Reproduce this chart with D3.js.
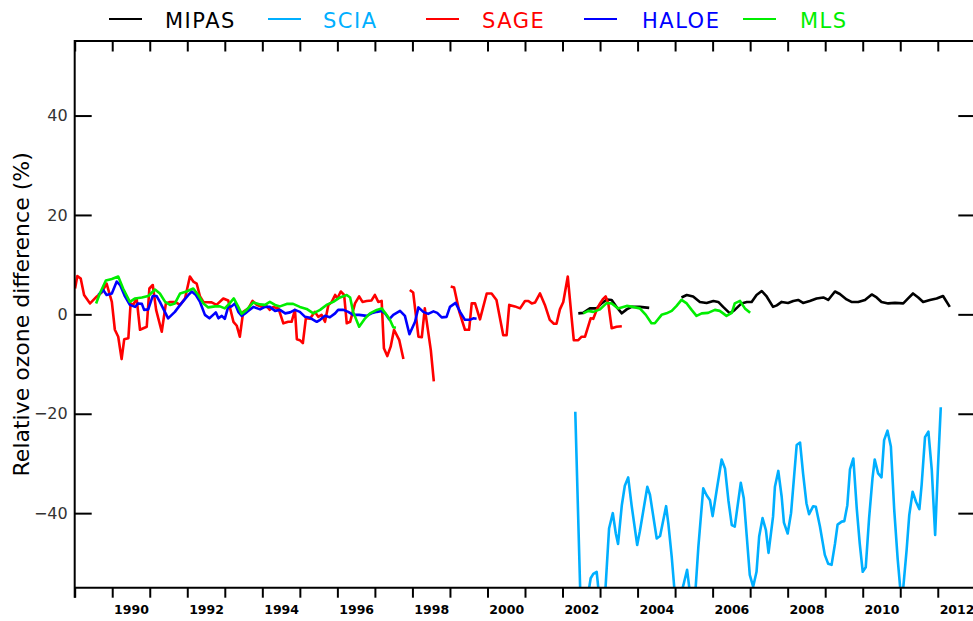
<!DOCTYPE html>
<html>
<head>
<meta charset="utf-8">
<script src="https://cdn.jsdelivr.net/npm/d3@7"></script>
<style>
  html, body { margin: 0; padding: 0; background: #fff; }
  svg { display: block; }
  .axis path, .axis line { stroke: #000; stroke-width: 2; }
</style>
</head>
<body>
<svg id="chart" width="973" height="621"></svg>
<script>
// ---------------- DATA ----------------
const seriesNames = ["MIPAS", "SCIA", "SAGE", "HALOE", "MLS"];
const seriesColors = ["#000000", "#00afff", "#ff0000", "#0000ff", "#00ee00"];
const xTickYears = d3.range(1989, 2014);
const xLabelYears = [1990, 1992, 1994, 1996, 1998, 2000, 2002, 2004, 2006, 2008, 2010, 2012];
const yTickValues = [-40, -20, 0, 20, 40];

// [decimal year, relative difference %]; null marks a gap
const mipas = [
  [2002.42,0.2],[2002.55,0.3],[2002.73,1.2],[2002.91,1.2],[2003.04,2.2],[2003.18,3.0],[2003.31,2.9],
  [2003.44,1.5],[2003.58,0.2],[2003.71,1.0],[2003.84,1.5],[2004.06,1.5],[2004.31,1.3],
  null,
  [2005.17,3.4],[2005.31,3.9],[2005.48,3.6],[2005.66,2.5],[2005.84,2.3],[2006.02,2.7],[2006.15,2.5],
  [2006.28,1.5],[2006.46,0.2],[2006.59,0.9],[2006.77,2.2],[2006.91,2.5],[2007.04,2.5],[2007.17,3.9],
  [2007.31,4.7],[2007.44,3.6],[2007.61,1.5],[2007.71,1.8],[2007.84,2.5],[2008.01,2.3],[2008.15,2.7],
  [2008.28,2.9],[2008.41,2.3],[2008.59,2.7],[2008.77,3.2],[2008.95,3.4],[2009.08,2.9],[2009.26,4.6],
  [2009.39,4.1],[2009.57,3.0],[2009.70,2.5],[2009.88,2.5],[2010.06,2.9],[2010.24,4.0],[2010.37,3.4],
  [2010.50,2.5],[2010.68,2.2],[2010.86,2.3],[2011.08,2.2],[2011.21,3.2],[2011.34,4.2],[2011.48,3.4],
  [2011.61,2.5],[2011.79,2.9],[2011.97,3.2],[2012.14,3.7],[2012.32,1.5]
];

const scia = [
  [2002.34,-19.6],[2002.48,-58],[2002.69,-56],[2002.75,-53.1],[2002.82,-52.2],[2002.91,-51.8],
  [2002.98,-57],[2003.13,-57],[2003.24,-43.1],[2003.34,-40.0],[2003.42,-44.1],[2003.48,-46.2],
  [2003.58,-38.4],[2003.66,-34.5],[2003.75,-32.8],[2003.84,-38.4],[2003.99,-46.4],[2004.06,-43.7],
  [2004.26,-34.7],[2004.33,-36.3],[2004.51,-45.1],[2004.60,-44.6],[2004.76,-38.6],[2004.82,-42.1],
  [2004.91,-48.8],[2005.00,-57],[2005.13,-57],[2005.22,-54.5],[2005.32,-51.4],[2005.41,-57],
  [2005.53,-57],[2005.62,-46.8],[2005.75,-35.0],[2005.84,-36.4],[2005.93,-37.4],[2006.00,-40.6],
  [2006.11,-35.3],[2006.24,-29.2],[2006.33,-31.0],[2006.42,-37.4],[2006.51,-42.4],[2006.59,-42.7],
  [2006.75,-33.9],[2006.83,-37.0],[2006.91,-44.7],[2006.99,-52.4],[2007.08,-54.8],[2007.17,-51.8],
  [2007.24,-44.7],[2007.33,-41.0],[2007.42,-43.4],[2007.49,-48.0],[2007.61,-40.7],[2007.66,-34.7],
  [2007.75,-31.5],[2007.84,-36.7],[2007.90,-41.9],[2008.00,-44.1],[2008.09,-40.0],[2008.17,-32.7],
  [2008.24,-26.3],[2008.33,-25.8],[2008.41,-32.0],[2008.50,-38.0],[2008.57,-40.2],[2008.68,-38.6],
  [2008.75,-38.7],[2008.86,-42.7],[2008.99,-48.4],[2009.08,-50.2],[2009.17,-50.4],[2009.26,-46.2],
  [2009.33,-42.3],[2009.44,-41.7],[2009.51,-41.6],[2009.59,-38.4],[2009.66,-31.2],[2009.75,-29.0],
  [2009.84,-39.0],[2009.92,-46.1],[2010.00,-51.8],[2010.08,-50.9],[2010.17,-41.0],[2010.26,-33.0],
  [2010.32,-29.2],[2010.41,-32.0],[2010.50,-32.8],[2010.57,-25.3],[2010.66,-23.4],[2010.75,-26.6],
  [2010.84,-39.4],[2010.93,-49.1],[2011.01,-56],[2011.08,-55],[2011.17,-47.4],[2011.24,-40.4],
  [2011.33,-35.7],[2011.42,-37.7],[2011.51,-39.2],[2011.57,-34.3],[2011.66,-24.7],[2011.75,-23.6],
  [2011.84,-31.3],[2011.93,-44.4],[2012.00,-31.7],[2012.08,-18.7]
];

const sage = [
  [1989.01,5.2],[1989.07,7.7],[1989.16,7.2],[1989.25,3.9],[1989.41,2.2],[1989.59,3.6],[1989.72,4.4],
  [1989.85,6.2],[1989.99,2.5],[1990.07,-3.1],[1990.16,-4.5],[1990.25,-9.0],[1990.32,-5.0],[1990.43,-4.8],
  [1990.49,2.2],[1990.56,1.9],[1990.65,3.2],[1990.74,-3.1],[1990.92,-2.5],[1990.99,5.2],[1991.08,5.9],
  [1991.17,0.9],[1991.32,-3.5],[1991.43,2.2],[1991.54,2.5],[1991.67,2.5],[1991.81,1.9],[1991.94,3.2],
  [1992.07,7.6],[1992.16,6.6],[1992.25,6.2],[1992.34,3.6],[1992.43,2.5],[1992.65,2.4],[1992.78,1.9],
  [1992.96,3.2],[1993.09,2.8],[1993.23,-1.5],[1993.32,-2.3],[1993.40,-4.5],[1993.49,0.5],[1993.63,1.2],
  [1993.74,2.7],[1993.85,1.9],[1993.98,1.5],[1994.12,1.6],[1994.20,0.9],[1994.29,1.5],[1994.43,1.2],
  [1994.56,-1.8],[1994.69,-1.5],[1994.78,-1.5],[1994.87,0.9],[1994.92,-5.0],[1995.00,-5.2],[1995.08,-5.8],
  [1995.16,-0.8],[1995.27,-0.9],[1995.40,0.5],[1995.49,-0.5],[1995.58,-0.1],[1995.67,-1.5],[1995.76,1.9],
  [1995.85,2.5],[1995.94,3.9],[1996.00,3.2],[1996.09,4.6],[1996.18,3.9],[1996.25,-1.8],[1996.34,-1.5],
  [1996.47,2.2],[1996.58,3.6],[1996.67,2.5],[1996.78,2.7],[1996.91,2.8],[1997.00,3.9],[1997.09,2.5],
  [1997.18,2.7],[1997.24,-6.8],[1997.33,-8.4],[1997.42,-6.5],[1997.51,-3.1],[1997.65,-5.2],[1997.76,-9.0],
  null,
  [1997.93,4.9],[1998.02,4.4],[1998.16,-4.5],[1998.25,-4.6],[1998.33,1.2],[1998.49,-7.2],[1998.57,-13.5],
  null,
  [1999.02,5.6],[1999.11,5.4],[1999.25,0.5],[1999.40,-3.1],[1999.51,-3.1],[1999.58,2.2],[1999.67,2.2],
  [1999.80,-1.0],[1999.98,4.2],[2000.11,4.2],[2000.24,2.9],[2000.42,-4.2],[2000.51,-4.2],[2000.58,1.9],
  [2000.73,1.6],[2000.87,1.2],[2001.00,2.7],[2001.09,2.7],[2001.18,2.2],[2001.27,2.4],[2001.40,4.2],
  [2001.53,1.9],[2001.66,-1.1],[2001.77,-1.9],[2001.84,-1.9],[2001.93,1.0],[2002.02,2.5],[2002.14,7.6],
  [2002.24,-0.5],[2002.30,-5.2],[2002.42,-5.2],[2002.51,-4.5],[2002.60,-4.5],[2002.68,-2.5],[2002.75,-0.8],
  [2002.82,-0.9],[2002.91,0.9],[2003.00,2.2],[2003.07,3.0],[2003.15,3.6],[2003.22,2.2],[2003.31,-2.8],
  [2003.44,-2.5],[2003.58,-2.4]
];

const haloe = [
  [1989.63,3.9],[1989.76,4.9],[1989.85,3.9],[1989.99,4.2],[1990.12,6.6],[1990.21,5.9],[1990.34,3.6],
  [1990.47,1.9],[1990.61,1.5],[1990.69,2.2],[1990.79,2.1],[1990.85,0.9],[1990.96,1.0],[1991.08,3.7],
  [1991.18,3.7],[1991.27,2.5],[1991.49,-0.8],[1991.67,0.5],[1991.81,1.9],[1992.03,3.9],[1992.12,4.6],
  [1992.23,3.9],[1992.34,2.5],[1992.47,-0.1],[1992.59,-0.8],[1992.69,-0.1],[1992.76,0.4],[1992.83,-0.8],
  [1992.92,-0.3],[1993.00,-0.9],[1993.09,1.5],[1993.18,1.6],[1993.27,2.2],[1993.36,0.5],[1993.45,-0.3],
  [1993.58,0.4],[1993.76,1.5],[1993.94,1.0],[1994.07,1.5],[1994.20,1.5],[1994.34,0.7],[1994.47,0.9],
  [1994.61,0.2],[1994.74,0.4],[1994.87,0.9],[1995.00,0.5],[1995.14,-0.5],[1995.27,-0.7],[1995.45,-1.5],
  [1995.54,-1.1],[1995.67,-0.3],[1995.80,-0.6],[1995.94,0.2],[1996.02,0.9],[1996.16,0.9],[1996.29,0.5],
  [1996.42,-0.1],[1996.58,-0.1],[1996.78,-0.3],[1996.91,0.2],[1997.05,0.5],[1997.18,0.7],[1997.27,0.2],
  [1997.38,-1.0],[1997.49,-0.1],[1997.67,0.7],[1997.80,-0.3],[1997.92,-4.0],[1998.07,-1.5],[1998.16,1.4],
  [1998.29,0.5],[1998.42,0.1],[1998.56,0.6],[1998.66,0.3],[1998.78,-0.6],[1998.91,-0.5],[1999.00,1.5],
  [1999.15,2.3],[1999.27,0.5],[1999.40,-1.1],[1999.53,-1.1],[1999.62,-0.8],[1999.71,-0.9]
];

const mls = [
  [1989.57,2.2],[1989.67,4.2],[1989.83,6.8],[1989.99,7.1],[1990.16,7.6],[1990.29,5.2],[1990.47,2.5],
  [1990.61,3.2],[1990.79,3.4],[1990.96,3.7],[1991.14,5.0],[1991.27,4.2],[1991.41,2.5],[1991.54,1.9],
  [1991.67,2.2],[1991.81,4.2],[1991.98,4.6],[1992.16,5.2],[1992.29,3.9],[1992.43,2.2],[1992.56,1.4],
  [1992.74,1.6],[1992.87,1.6],[1993.00,1.2],[1993.14,2.3],[1993.24,3.2],[1993.36,1.5],[1993.45,0.1],
  [1993.58,0.9],[1993.76,2.4],[1993.94,2.0],[1994.07,1.9],[1994.20,2.5],[1994.34,1.9],[1994.47,1.6],
  [1994.65,2.1],[1994.82,2.1],[1995.00,1.5],[1995.18,1.1],[1995.36,0.2],[1995.54,0.9],[1995.71,1.9],
  [1995.89,2.5],[1996.07,3.4],[1996.25,3.9],[1996.34,3.4],[1996.42,0.5],[1996.58,-2.5],[1996.74,-0.8],
  [1996.87,0.2],[1997.05,0.9],[1997.18,1.2],[1997.31,-0.1],[1997.40,-1.1],[1997.49,-2.6],[1997.56,-2.7],
  null,
  [2002.55,0.2],[2002.69,0.7],[2002.82,0.5],[2003.00,1.0],[2003.18,2.3],[2003.31,2.2],[2003.48,1.2],
  [2003.71,1.7],[2003.88,1.5],[2004.06,1.2],[2004.22,-0.1],[2004.37,-1.8],[2004.46,-1.8],[2004.64,-0.1],
  [2004.77,0.2],[2004.91,0.7],[2005.04,1.7],[2005.17,2.9],[2005.31,2.2],[2005.44,0.9],[2005.57,-0.3],
  [2005.71,0.2],[2005.88,0.3],[2006.06,0.9],[2006.19,0.7],[2006.37,-0.3],[2006.51,0.3],[2006.59,2.2],
  [2006.73,2.7],[2006.86,1.2],[2007.00,0.3]
];

const seriesData = [mipas, scia, sage, haloe, mls];

// ---------------- CHART ----------------
const svg = d3.select("#chart");
const W = 973, H = 621;
const plot = { left: 74.7, right: 975.3, top: 41, bottom: 587.7 };

const x = d3.scaleLinear().domain([1989, 2013]).range([plot.left, plot.right]);
const y = d3.scaleLinear().domain([-55, 55]).range([plot.bottom, plot.top]);

svg.append("defs").append("clipPath").attr("id", "clip")
  .append("rect")
  .attr("x", plot.left).attr("y", plot.top)
  .attr("width", plot.right - plot.left).attr("height", plot.bottom - plot.top);

const line = d3.line()
  .defined(d => d !== null)
  .x(d => x(d[0]))
  .y(d => y(d[1]));

const gLines = svg.append("g").attr("clip-path", "url(#clip)");
seriesData.forEach((data, i) => {
  gLines.append("path")
    .datum(data)
    .attr("fill", "none")
    .attr("stroke", seriesColors[i])
    .attr("stroke-width", 2.6)
    .attr("stroke-linejoin", "round")
    .attr("d", line);
});

// Axes
const axFont = "DejaVu Sans, Verdana, sans-serif";

// bottom ticks
const gB = svg.append("g").attr("class", "axis")
  .attr("transform", `translate(0,${plot.bottom})`)
  .call(d3.axisBottom(x).tickValues(xTickYears).tickSizeInner(10).tickSizeOuter(0).tickFormat(""));
gB.select(".domain").attr("d", `M${plot.left},0H${W + 5}`);

// bottom labels (centered in the year interval)
const gBL = svg.append("g")
  .attr("transform", `translate(0,${plot.bottom})`)
  .call(d3.axisBottom(x).tickValues(xLabelYears.map(v => v + 0.5)).tickSize(0).tickPadding(17)
    .tickFormat(v => String(Math.floor(v))));
gBL.select(".domain").remove();
gBL.selectAll("text")
  .attr("font-family", axFont).attr("font-size", 12.5).attr("font-weight", "bold").attr("fill", "#000");

// top ticks
const gT = svg.append("g").attr("class", "axis")
  .attr("transform", `translate(0,${plot.top})`)
  .call(d3.axisTop(x).tickValues(xTickYears).tickSizeInner(-10.5).tickSizeOuter(0).tickFormat(""));
gT.select(".domain").attr("d", `M${plot.left},0H${W + 5}`);

// left axis
const gL = svg.append("g").attr("class", "axis")
  .attr("transform", `translate(${plot.left},0)`)
  .call(d3.axisLeft(y).tickValues(yTickValues).tickSizeInner(-17).tickSizeOuter(0).tickPadding(7)
    .tickFormat(v => v < 0 ? "\u2212" + Math.abs(v) : String(v)));
gL.select(".domain").attr("d", `M0,${plot.top - 1}V${plot.bottom + 10}`);
gL.selectAll("text")
  .attr("font-family", axFont).attr("font-size", 16).attr("font-weight", "normal").attr("fill", "#333");

// right axis
const gR = svg.append("g").attr("class", "axis")
  .attr("transform", `translate(${plot.right},0)`)
  .call(d3.axisRight(y).tickValues(yTickValues).tickSizeInner(-17).tickSizeOuter(0).tickFormat(""));

// Y axis title
svg.append("text")
  .attr("transform", `translate(29,${(plot.top + plot.bottom) / 2}) rotate(-90)`)
  .attr("text-anchor", "middle")
  .attr("font-family", axFont)
  .attr("font-size", 22)
  .attr("font-weight", "normal")
  .attr("fill", "#000")
  .text("Relative ozone difference (%)");

// Legend
const legendLineX = [109, 268, 426, 584, 743];
const legendTextX = [165, 323, 482, 642, 800];
const gLeg = svg.append("g");
seriesNames.forEach((name, i) => {
  gLeg.append("line")
    .attr("x1", legendLineX[i]).attr("x2", legendLineX[i] + 33)
    .attr("y1", 19).attr("y2", 19)
    .attr("stroke", seriesColors[i]).attr("stroke-width", 2);
  gLeg.append("text")
    .attr("x", legendTextX[i]).attr("y", 27.5)
    .attr("font-family", axFont)
    .attr("font-size", 21)
    .attr("font-weight", "normal")
    .attr("letter-spacing", 1.5)
    .attr("fill", seriesColors[i])
    .text(name);
});
</script>
</body>
</html>
